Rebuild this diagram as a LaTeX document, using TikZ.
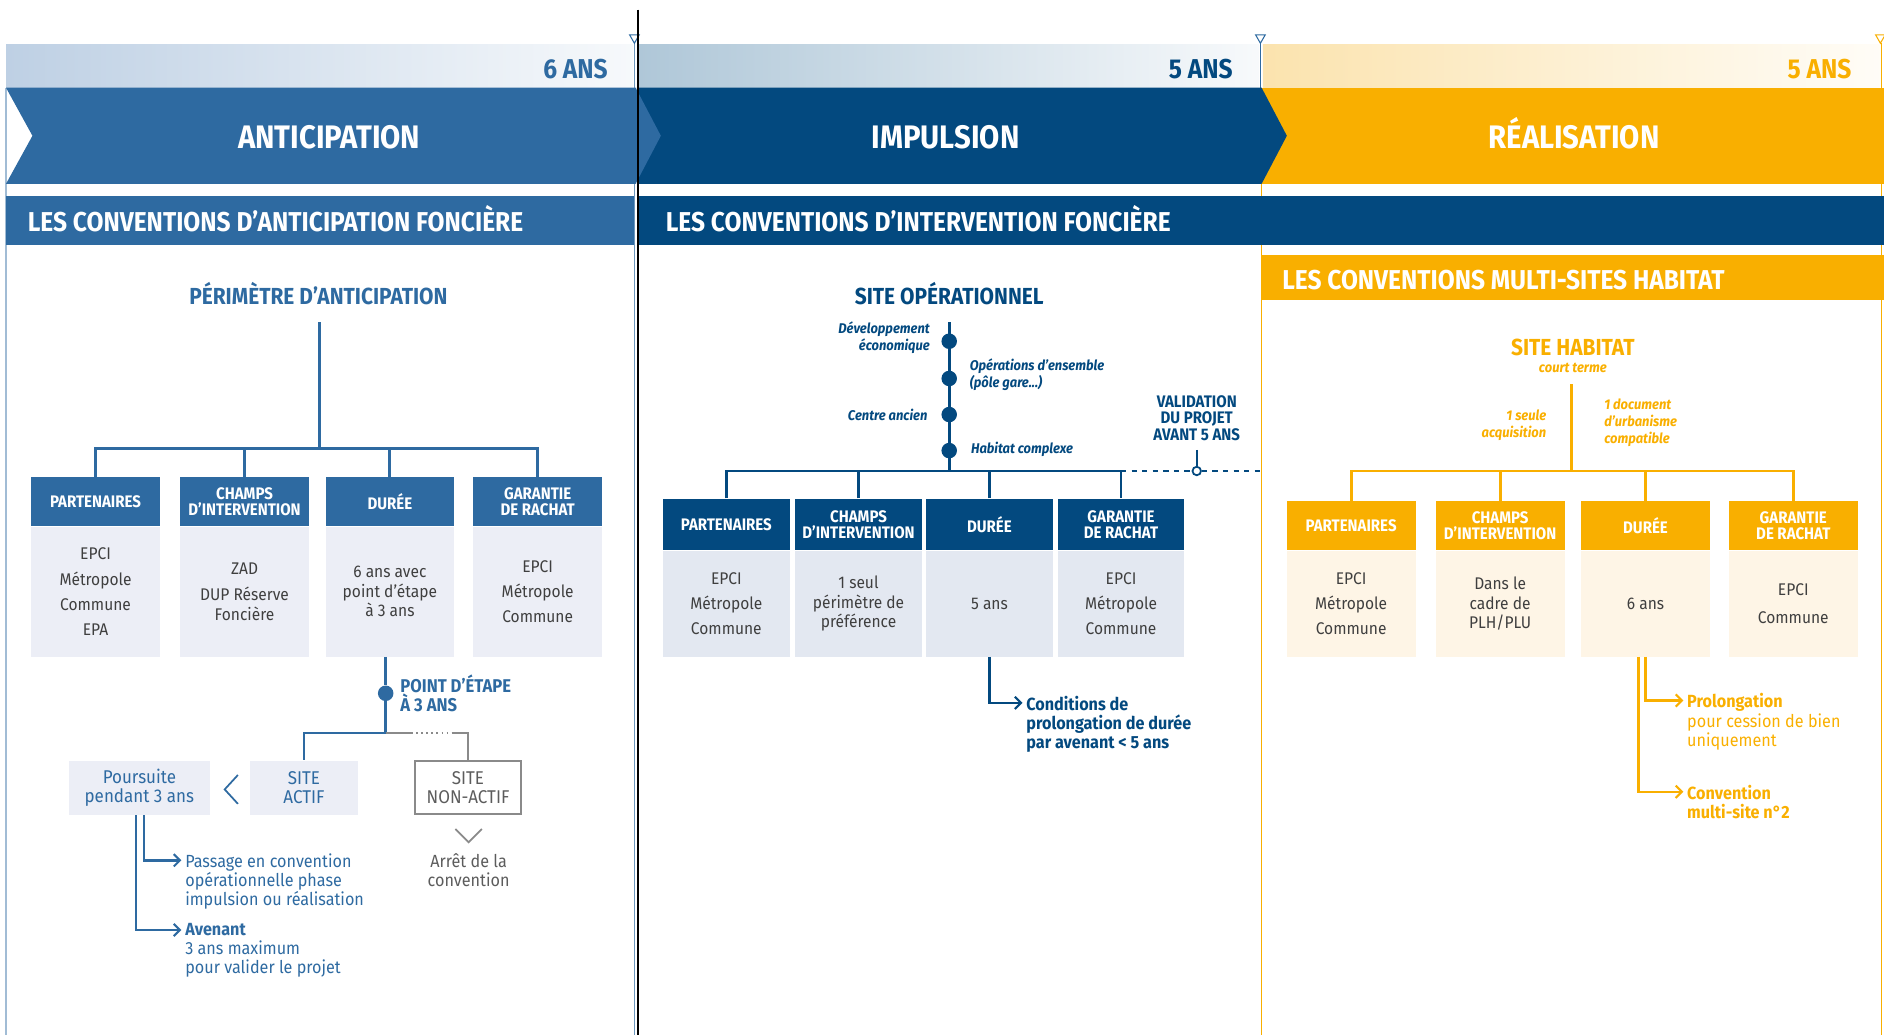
\documentclass[tikz,border=0pt]{standalone}
\usepackage{fontspec}
\setmainfont[FakeStretch=0.92]{Fira Sans}
\newfontfamily\headfont[FakeStretch=0.9]{Fira Sans}
\usetikzlibrary{positioning,calc,arrows.meta}

\definecolor{antblue}{HTML}{2E6AA1}
\definecolor{impblue}{HTML}{03497F}
\definecolor{realorange}{HTML}{F9AF00}
\definecolor{antlight}{HTML}{ECEEF6}
\definecolor{implight}{HTML}{E3E8F1}
\definecolor{reallight}{HTML}{FEF5E6}
\definecolor{greytxt}{HTML}{3F3F3F}
\definecolor{greyline}{HTML}{8A8A8A}
\definecolor{antfade}{HTML}{BED0E4}
\definecolor{impfade}{HTML}{AFC7D8}
\definecolor{realfade}{HTML}{FBE3AE}

\tikzstyle{phase}=[anchor=base,text=white,font=\headfont\bfseries\fontsize{18.5}{20}\selectfont]
\tikzstyle{years}=[anchor=base east,font=\headfont\bfseries\fontsize{15.5}{16}\selectfont]
\tikzstyle{band}=[anchor=base west,text=white,font=\headfont\bfseries\fontsize{15.5}{16}\selectfont]
\tikzstyle{title}=[anchor=base,font=\headfont\bfseries\fontsize{13.2}{14}\selectfont]
\tikzstyle{hd}=[text=white,inner sep=0pt,align=center,font=\headfont\bfseries\fontsize{9.5}{8.9}\selectfont]
\tikzstyle{bd}=[text=greytxt,inner sep=0pt,align=center,font=\fontsize{9.6}{14.3}\selectfont]
\tikzstyle{tight}=[font=\fontsize{9.6}{11}\selectfont]
\tikzstyle{lhd}=[hd,fill=antblue,minimum width=2.57cm,minimum height=0.98cm]
\tikzstyle{lbd}=[bd,fill=antlight,minimum width=2.57cm,minimum height=2.59cm]
\tikzstyle{mhd}=[hd,fill=impblue,minimum width=2.53cm,minimum height=1.03cm]
\tikzstyle{mbd}=[bd,fill=implight,minimum width=2.53cm,minimum height=2.11cm]
\tikzstyle{rhd}=[hd,fill=realorange,minimum width=2.58cm,minimum height=0.98cm]
\tikzstyle{rbd}=[bd,fill=reallight,minimum width=2.58cm,minimum height=2.11cm]
\tikzstyle{lline}=[antblue,line width=1.6pt]
\tikzstyle{mline}=[impblue,line width=1.6pt]
\tikzstyle{rline}=[realorange,line width=1.6pt]
\tikzstyle{gline}=[greyline,line width=0.9pt]
\tikzstyle{tip}=[-{Straight Barb[length=3.5pt,width=7pt,line width=1.2pt]}]
\tikzstyle{dot}=[circle,inner sep=0pt,minimum size=0.31cm]
\tikzstyle{tag}=[font=\bfseries\itshape\fontsize{8}{9.6}\selectfont]
\tikzstyle{note}=[inner sep=2pt,align=left,font=\fontsize{10}{10.9}\selectfont]
\tikzstyle{site}=[inner sep=0pt,align=center,minimum height=1.08cm,minimum width=2.14cm,
  font=\fontsize{10.5}{10.9}\selectfont]

\begin{document}
\begin{tikzpicture}[x=0.024cm,y=-0.024cm]
  \useasboundingbox (0,0) rectangle (1568,861);
  % Frame lines
  \draw[antblue!45,line width=0.6pt] (5,73) -- (5,861);
  \draw[antblue!70,line width=0.6pt] (528,36) -- (528,861);
  \draw[antblue,line width=0.6pt] (1049,36) -- (1049,73);
  \draw[realorange,line width=0.6pt] (1050,153) -- (1050,861);
  \draw[realorange,line width=0.6pt] (1566,36) -- (1566,861);
  % Durations
  \shade[left color=antfade,right color=antblue!4] (5,37) rectangle (527,73);
  \shade[left color=impfade,right color=impblue!3] (531,37) rectangle (1048,73);
  \shade[left color=realfade,right color=realorange!3] (1051,37) rectangle (1565,73);
  \foreach \x/\c in {528/antblue,1049/antblue,1565/realorange}
    \draw[\c,line width=0.6pt,fill=white] (\x-4,29) -- (\x+4,29) -- (\x,36) -- cycle;
  \node[years,text=antblue] (antyears) at (511,65) {6 ANS};
  \node[years,text=impblue] (impyears) at (1031,65) {5 ANS};
  \node[years,text=realorange] (realyears) at (1546,65) {5 ANS};
  % Phases
  \fill[realorange] (1050,73) rectangle (1568,153);
  \fill[impblue] (530,73) -- (1050,73) -- (1071,113) -- (1050,153) -- (530,153) -- cycle;
  \fill[antblue] (5,73) -- (529,73) -- (550,113) -- (529,153) -- (5,153) -- (27,113) -- cycle;
  \node[phase] (anticip) at (274,123.5) {ANTICIPATION};
  \node[phase] (impuls) at (787,123.5) {IMPULSION};
  \node[phase] (realis) at (1310,123.5) {RÉALISATION};
  % Conventions
  \fill[antblue] (5,163) rectangle (528,204);
  \fill[impblue] (531,163) rectangle (1568,204);
  \fill[realorange] (1050,212) rectangle (1568,250);
  \node[band] (antconv) at (18,193) {LES CONVENTIONS D’ANTICIPATION FONCIÈRE};
  \node[band] (impconv) at (549,193) {LES CONVENTIONS D’INTERVENTION FONCIÈRE};
  \node[band] (realconv) at (1062,241) {LES CONVENTIONS MULTI-SITES HABITAT};
  \draw[black,line width=1pt] (531,8) -- (531,861);

  % Anticipation
  \node[title,text=antblue] (perim) at (265,253.5) {PÉRIMÈTRE D’ANTICIPATION};
  \coordinate (perimfoot) at (266,268);
  \coordinate (lbus) at (266,373);
  \node[lhd] (lh1) at (79.5,417.5) {PARTENAIRES};
  \node[lhd] (lh2) at (203.5,417.5) {CHAMPS\\D’INTERVENTION};
  \node[lhd] (lh3) at (324.5,417.5) {DURÉE};
  \node[lhd] (lh4) at (447.5,417.5) {GARANTIE\\DE RACHAT};
  \node[lbd,below=0pt of lh1] (lb1) {EPCI\\Métropole\\Commune\\EPA};
  \node[lbd,below=0pt of lh2,tight] (lb2) {ZAD\\[4pt]DUP Réserve\\Foncière};
  \node[lbd,below=0pt of lh3,tight] (lb3) {6 ans avec\\point d’étape\\à 3 ans};
  \node[lbd,below=0pt of lh4] (lb4) {EPCI\\Métropole\\Commune};
  \draw[lline] (perimfoot) -- (lbus);
  \draw[lline] (lh1.north) -- (lh1.north |- lbus) -- (lh4.north |- lbus) -- (lh4.north);
  \foreach \n in {lh2,lh3} \draw[lline] (\n.north) -- (\n.north |- lbus);

  \node[dot,fill=antblue] (pe) at (321,577) {};
  \node[anchor=west,text=antblue,align=left,inner sep=0pt,
    font=\headfont\bfseries\fontsize{10.5}{10.2}\selectfont] (pelabel) at (333,577) {POINT D’ÉTAPE\\À 3 ANS};
  \coordinate (split) at (321,610);
  \coordinate (dotA) at (342,610);
  \coordinate (dotB) at (376,610);
  \node[site,fill=antlight,text=antblue] (actif) at (253,655.5) {SITE\\ACTIF};
  \node[site,draw=greyline,line width=0.9pt,text=greytxt!85,minimum width=2.12cm,minimum height=1.06cm] (nonactif) at (389.5,655.5) {SITE\\NON-ACTIF};
  \node[site,fill=antlight,text=antblue,minimum width=2.83cm] (pours) at (116,655.5) {Poursuite\\pendant 3 ans};
  \draw[lline] (lb3.south -| pe) -- (pe) -- (split) -| (actif.north);
  \draw[gline] (split) -- (dotA);
  \draw[gline,dotted] (dotA) -- (dotB);
  \draw[gline] (dotB) -| (nonactif.north);
  \draw[antblue,line width=1pt] (198,645) -- (187,657) -- (198,669);
  \draw[greyline,line width=1pt] (379,690) -- (390,701) -- (401,690);
  \node[text=greytxt!85,align=center,font=\fontsize{10}{10.9}\selectfont] (stop) at (390,724) {Arrêt de la\\convention};
  \node[note,text=antblue,anchor=north west] (pass) at (151,707) {Passage en convention\\opérationnelle phase\\impulsion ou réalisation};
  \node[note,text=antblue,anchor=north west] (aven) at (151,765) {\bfseries Avenant\\3 ans maximum\\pour valider le projet};
  \draw[lline,line width=1.4pt,tip] ($(pours.south)+(4,0)$) |- ($(pass.north west)+(0,9)$);
  \draw[lline,line width=1.4pt,tip] ($(pours.south)+(-3,0)$) |- ($(aven.north west)+(0,9)$);

  % Impulsion
  \node[title,text=impblue] (siteop) at (790,253.5) {SITE OPÉRATIONNEL};
  \coordinate (optop) at (790,268);
  \coordinate (mbus) at (790,392);
  \draw[mline] (optop) -- (mbus);
  \node[dot,fill=impblue] (dev) at (790,284) {};
  \node[dot,fill=impblue] (ope) at (790,315) {};
  \node[dot,fill=impblue] (cent) at (790,345) {};
  \node[dot,fill=impblue] (hab) at (790,375) {};
  \node[tag,text=impblue,anchor=east,align=right] (devlabel) at (779,281) {Développement\\économique};
  \node[tag,text=impblue,anchor=west,align=left] (opelabel) at (802,312) {Opérations d’ensemble\\(pôle gare...)};
  \node[tag,text=impblue,anchor=east] (centlabel) at (777,345) {Centre ancien};
  \node[tag,text=impblue,anchor=west] (hablabel) at (803,374) {Habitat complexe};
  \node[mhd] (mh1) at (604.5,436.5) {PARTENAIRES};
  \node[mhd] (mh2) at (714.5,436.5) {CHAMPS\\D’INTERVENTION};
  \node[mhd] (mh3) at (823.5,436.5) {DURÉE};
  \node[mhd] (mh4) at (933,436.5) {GARANTIE\\DE RACHAT};
  \node[mbd,below=0pt of mh1] (mb1) {EPCI\\Métropole\\Commune};
  \node[mbd,below=0pt of mh2,tight] (mb2) {1 seul\\périmètre de\\préférence};
  \node[mbd,below=0pt of mh3] (mb3) {5 ans};
  \node[mbd,below=0pt of mh4] (mb4) {EPCI\\Métropole\\Commune};
  \draw[mline] (mh1.north) -- (mh1.north |- mbus) -- (mh4.north |- mbus) -- (mh4.north);
  \foreach \n in {mh2,mh3} \draw[mline] (\n.north) -- (\n.north |- mbus);
  \node[text=impblue,align=center,inner sep=0pt,
    font=\headfont\bfseries\fontsize{9.5}{9.6}\selectfont] (valid) at (996,348) {VALIDATION\\DU PROJET\\AVANT 5 ANS};
  \node[circle,draw=impblue,fill=white,line width=1pt,inner sep=0pt,minimum size=0.17cm] (vring) at (996,392) {};
  \coordinate (mend) at (1050,392);
  \draw[mline,line width=1.2pt] ($(valid.south)+(0,7)$) -- (vring.north);
  \draw[mline,line width=1.2pt,dashed] (mh4.north |- mbus) -- (vring.west);
  \draw[mline,line width=1.2pt,dashed] (vring.east) -- (mend);
  \node[note,text=impblue,anchor=north west] (cond) at (851,576) {\bfseries Conditions de\\\bfseries prolongation de durée\\\bfseries par avenant < 5 ans};
  \draw[mline,line width=1.4pt,tip] (mb3.south) |- ($(cond.north west)+(0,9)$);

  % Realisation
  \node[title,text=realorange] (sitehab) at (1309,296) {SITE HABITAT};
  \node[tag,text=realorange] (court) at (1309,306) {court terme};
  \coordinate (habtop) at (1308,320);
  \coordinate (rbus) at (1308,392);
  \draw[rline] (habtop) -- (rbus);
  \node[tag,text=realorange,anchor=east,align=right] (acq) at (1292,354) {1 seule\\acquisition};
  \node[tag,text=realorange,anchor=west,align=left] (docu) at (1330,352) {1 document\\d’urbanisme\\compatible};
  \node[rhd] (rh1) at (1124.5,437.5) {PARTENAIRES};
  \node[rhd] (rh2) at (1248.5,437.5) {CHAMPS\\D’INTERVENTION};
  \node[rhd] (rh3) at (1369.5,437.5) {DURÉE};
  \node[rhd] (rh4) at (1492.5,437.5) {GARANTIE\\DE RACHAT};
  \node[rbd,below=0pt of rh1] (rb1) {EPCI\\Métropole\\Commune};
  \node[rbd,below=0pt of rh2,tight] (rb2) {Dans le\\cadre de\\PLH/PLU};
  \node[rbd,below=0pt of rh3] (rb3) {6 ans};
  \node[rbd,below=0pt of rh4,font=\fontsize{9.6}{15.5}\selectfont] (rb4) {EPCI\\Commune};
  \draw[rline] (rh1.north) -- (rh1.north |- rbus) -- (rh4.north |- rbus) -- (rh4.north);
  \foreach \n in {rh2,rh3} \draw[rline] (\n.north) -- (\n.north |- rbus);
  \node[note,text=realorange,anchor=north west] (prol) at (1401,574) {\bfseries Prolongation\\pour cession de bien\\uniquement};
  \node[note,text=realorange,anchor=north west] (conv2) at (1401,650) {\bfseries Convention\\\bfseries multi-site n°2};
  \draw[rline,line width=1.4pt,tip] (rb3.south) |- ($(prol.north west)+(0,9)$);
  \draw[rline,line width=1.4pt,tip] ($(rb3.south)+(-6,0)$) |- ($(conv2.north west)+(0,9)$);
\end{tikzpicture}
\end{document}
